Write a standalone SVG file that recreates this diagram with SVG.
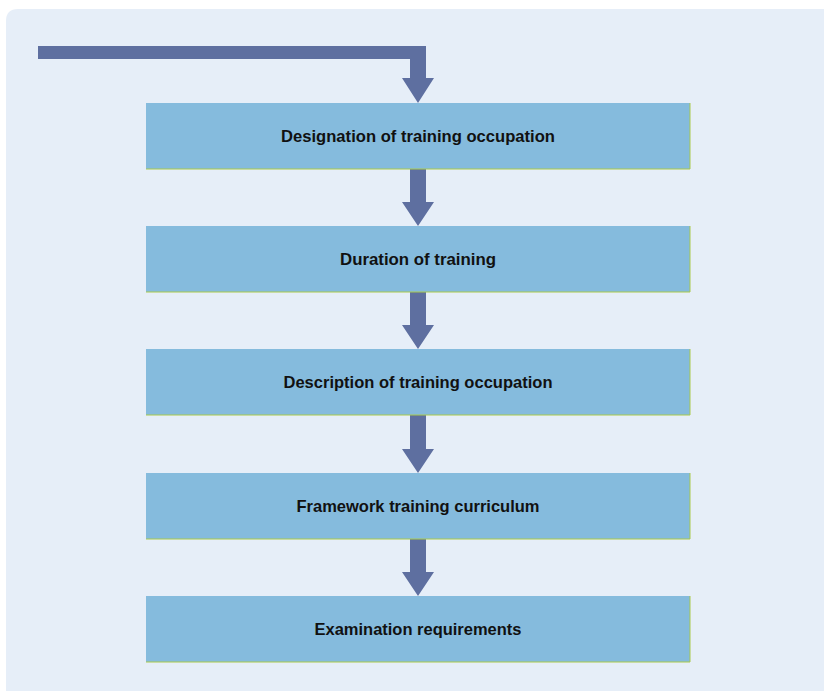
<svg xmlns="http://www.w3.org/2000/svg" width="824" height="691" viewBox="0 0 824 691">
<style>
.box{fill:#85bbdd;}
.edge{fill:none;stroke:#a9c94a;stroke-width:1;}
.lbl{font-family:"Liberation Sans Narrow","Liberation Sans","DejaVu Sans Condensed",sans-serif;font-weight:bold;font-size:17px;fill:#111111;text-anchor:middle;}
.arr{fill:#5e6fa0;}
</style>
<rect x="0" y="0" width="824" height="691" fill="#ffffff"/>
<path d="M6,21 Q6,9 18,9 L824,9 L824,691 L6,691 Z" fill="#e6eef8"/>
<g id="connectors">
<polygon class="arr" points="38,46 426,46 426,78 434,78 418,103 402,78 410,78 410,59 38,59"/>
<polygon class="arr" points="410,169 426,169 426,202 434,202 418,226 402,202 410,202"/>
<polygon class="arr" points="410,292 426,292 426,325 434,325 418,349 402,325 410,325"/>
<polygon class="arr" points="410,415 426,415 426,449 434,449 418,473 402,449 410,449"/>
<polygon class="arr" points="410,539 426,539 426,572 434,572 418,596 402,572 410,572"/>
</g>
<g id="n1">
<rect class="box" x="146" y="103" width="544" height="66"/>
<path class="edge" d="M690,103 V169 H146"/>
<text class="lbl" x="418" y="142" textLength="274" lengthAdjust="spacingAndGlyphs">Designation of training occupation</text>
</g>
<g id="n2">
<rect class="box" x="146" y="226" width="544" height="66"/>
<path class="edge" d="M690,226 V292 H146"/>
<text class="lbl" x="418" y="265" textLength="156" lengthAdjust="spacingAndGlyphs">Duration of training</text>
</g>
<g id="n3">
<rect class="box" x="146" y="349" width="544" height="66"/>
<path class="edge" d="M690,349 V415 H146"/>
<text class="lbl" x="418" y="388" textLength="269" lengthAdjust="spacingAndGlyphs">Description of training occupation</text>
</g>
<g id="n4">
<rect class="box" x="146" y="473" width="544" height="66"/>
<path class="edge" d="M690,473 V539 H146"/>
<text class="lbl" x="418" y="512" textLength="243" lengthAdjust="spacingAndGlyphs">Framework training curriculum</text>
</g>
<g id="n5">
<rect class="box" x="146" y="596" width="544" height="66"/>
<path class="edge" d="M690,596 V662 H146"/>
<text class="lbl" x="418" y="635" textLength="207" lengthAdjust="spacingAndGlyphs">Examination requirements</text>
</g>
</svg>
